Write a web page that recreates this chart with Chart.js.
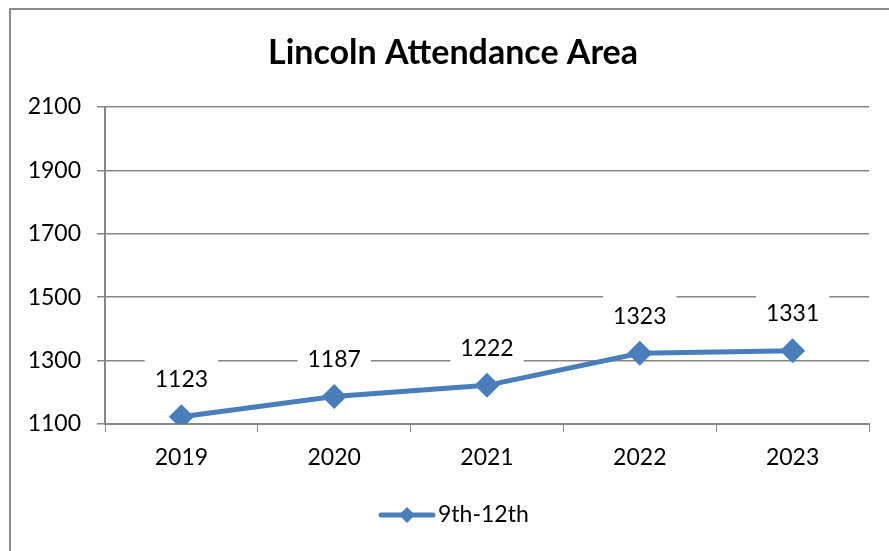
<!DOCTYPE html>
<html>
<head>
<meta charset="utf-8">
<script src="https://cdn.jsdelivr.net/npm/chart.js@4.4.0/dist/chart.umd.min.js"></script>
<style>
  html, body { margin: 0; padding: 0; background: #fff; }
  #wrap { width: 889px; height: 551px; position: relative; }
</style>
</head>
<body>
<div id="wrap"><canvas id="chart" width="889" height="551"></canvas></div>
<script>
// chart data
const years = ['2019', '2020', '2021', '2022', '2023'];
const enrollment = [1123, 1187, 1222, 1323, 1331];
const seriesName = '9th-12th';
const chartTitle = 'Lincoln Attendance Area';
const yMin = 1100;
const yMax = 2100;
const yStep = 200;

const blue = '#4a7ebb';
const grey = '#868686';
const font = 'Lato, Carlito, Calibri, sans-serif';

// outer frame, title, value boxes and the legend are drawn by hand, excel style
// (the frame runs past the right edge, so the title sits right of the canvas centre)
const excelBits = {
    id: 'excelBits',
    beforeDraw(chart) {
        const ctx = chart.ctx;
        ctx.save();
        ctx.strokeStyle = '#8c8c8c';
        ctx.lineWidth = 2;
        ctx.strokeRect(10, 9, 900, 600);
        ctx.fillStyle = '#000';
        ctx.font = 'bold 34px ' + font;
        ctx.textAlign = 'center';
        ctx.textBaseline = 'middle';
        ctx.fillText(chartTitle, 453, 53);
        ctx.restore();
    },
    afterDatasetsDraw(chart) {
        const ctx = chart.ctx;
        const meta = chart.getDatasetMeta(0);
        ctx.save();
        ctx.font = '23px ' + font;
        ctx.textAlign = 'center';
        ctx.textBaseline = 'middle';
        meta.data.forEach((pt, i) => {
            const txt = String(chart.data.datasets[0].data[i]);
            const w = ctx.measureText(txt).width + 20;
            const cy = pt.y - 37;
            ctx.fillStyle = '#fff';
            ctx.fillRect(pt.x - w / 2, cy - 22, w, 44);
            ctx.fillStyle = '#000';
            ctx.fillText(txt, pt.x, cy);
        });
        // legend
        const lx = 381, ly = 515;
        ctx.strokeStyle = blue;
        ctx.lineWidth = 5;
        ctx.lineCap = 'round';
        ctx.beginPath();
        ctx.moveTo(lx, ly);
        ctx.lineTo(lx + 52, ly);
        ctx.stroke();
        ctx.fillStyle = blue;
        ctx.beginPath();
        ctx.moveTo(lx + 26, ly - 8);
        ctx.lineTo(lx + 34, ly);
        ctx.lineTo(lx + 26, ly + 8);
        ctx.lineTo(lx + 18, ly);
        ctx.closePath();
        ctx.fill();
        ctx.fillStyle = '#000';
        ctx.textAlign = 'left';
        ctx.fillText(seriesName, lx + 57, ly);
        ctx.restore();
    }
};

new Chart(document.getElementById('chart'), {
    type: 'line',
    data: {
        labels: years,
        datasets: [{
            label: seriesName,
            data: enrollment,
            borderColor: blue,
            backgroundColor: blue,
            borderWidth: 5,
            pointStyle: 'rectRot',
            pointRadius: 9,
            pointHoverRadius: 9,
            tension: 0
        }]
    },
    options: {
        responsive: false,
        animation: false,
        layout: { padding: { left: 0, right: 20, top: 107, bottom: 0 } },
        plugins: {
            legend: { display: false },
            tooltip: { enabled: false },
            title: { display: false }
        },
        scales: {
            x: {
                offset: true,
                afterFit: s => { s.height = 127; },
                grid: {
                    offset: true,
                    drawOnChartArea: false,
                    drawTicks: true,
                    tickLength: 8,
                    tickColor: grey,
                    color: grey
                },
                border: { color: grey, width: 2 },
                ticks: {
                    color: '#000',
                    font: { family: font, size: 23 },
                    padding: 12,
                    maxRotation: 0
                }
            },
            y: {
                min: yMin,
                max: yMax,
                afterFit: s => { s.width = 105; },
                grid: {
                    color: grey,
                    lineWidth: 1.5,
                    tickLength: 8,
                    tickColor: grey
                },
                border: { color: grey, width: 2 },
                ticks: {
                    stepSize: yStep,
                    color: '#000',
                    font: { family: font, size: 23 },
                    padding: 16,
                    callback: v => String(v)
                }
            }
        }
    },
    plugins: [excelBits]
});
</script>
</body>
</html>
